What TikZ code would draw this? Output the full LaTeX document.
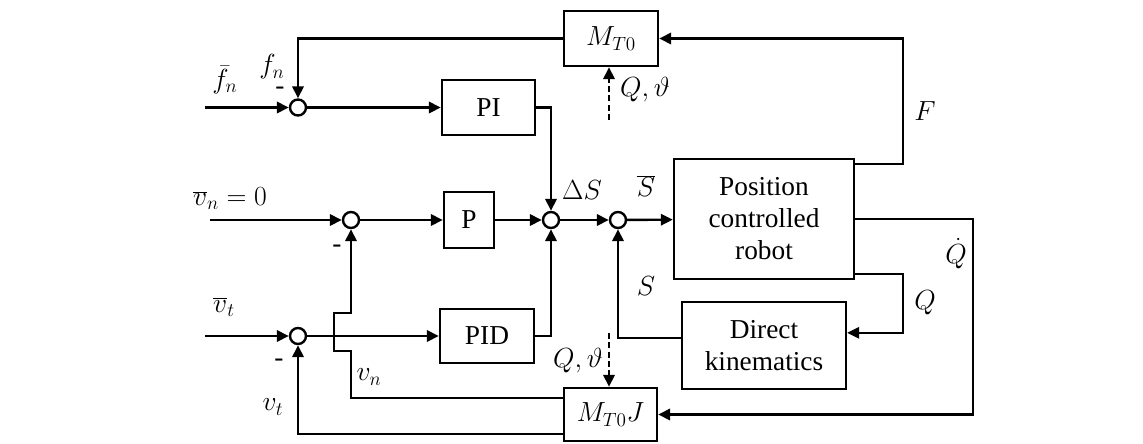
\documentclass[tikz,border=0pt]{standalone}
\usepackage{fontspec}
\setmainfont{Liberation Serif}
\usetikzlibrary{arrows.meta,calc}
\begin{document}
\begin{tikzpicture}[x=0.75pt,y=-0.75pt,
  line width=1.8pt,
  >={Triangle[length=9pt,width=8.5pt]},
  blk/.style={draw, line width=1.8pt, inner sep=0pt, align=center, font=\fontsize{20.5}{24}\selectfont},
  sumj/.style={draw, circle, minimum size=12pt, inner sep=0pt, line width=1.8pt},
  lbl/.style={inner sep=0pt, font=\fontsize{20.5}{24}\selectfont},
  wire/.style={line width=1.8pt, line join=miter},
  dwire/.style={wire, dash pattern=on 4.5pt off 2.5pt}
]
\useasboundingbox (0,0) rectangle (1143,443);

% blocks
\node[blk, minimum width=70.5pt, minimum height=41.25pt] (mt0) at (611,38.5) {$M_{T0}$};
\node[blk, minimum width=69.75pt, minimum height=41.25pt] (pi) at (488.5,107.5) {PI};
\node[blk, minimum width=37.5pt, minimum height=42pt] (p) at (469,220) {P};
\node[blk, minimum width=70.5pt, minimum height=40.5pt] (pid) at (487,336) {PID};
\node[blk, minimum width=135pt, minimum height=90pt] (robot) at (764,219) {Position\\controlled\\robot};
\node[blk, minimum width=123pt, minimum height=65.25pt] (dk) at (764,345.5) {Direct\\kinematics};
\node[blk, minimum width=69.75pt, minimum height=39.75pt] (mt0j) at (610.5,414.5) {$M_{T0}J$};

% summing junctions
\node[sumj] (s1) at (298,107.5) {};
\node[sumj] (s2) at (351,220) {};
\node[sumj] (s3) at (551,220) {};
\node[sumj] (s4) at (618,220) {};
\node[sumj] (s5) at (298,336) {};

% helper coordinates
\coordinate (fin) at (205,107.5);
\coordinate (vnin) at (210,220);
\coordinate (vtin) at (205,336);
\coordinate (xF) at (903,0);
\coordinate (xQd) at (973,0);
\coordinate (rF) at ($(robot.north east)+(0,6)$);
\coordinate (rQ) at ($(robot.south east)+(0,-6)$);
\coordinate (dkin) at ($(dk.north east)+(0,32)$);
\coordinate (dkout) at ($(dk.north west)+(0,37)$);
\coordinate (qt1) at (609,120);
\coordinate (qt2) at (609,333);
\coordinate (mjn) at ($(mt0j.north west)+(0,11)$);
\coordinate (mjt) at ($(mt0j.south west)+(0,-8)$);
\coordinate (j1) at (351,351);
\coordinate (j2) at (334,313);

% forward paths
\draw[wire,->] (fin) -- (s1);
\draw[wire,->] (s1) -- (pi);
\draw[wire,->] (pi.east) -| (s3.north);
\draw[wire,->] (vnin) -- (s2);
\draw[wire,->] (s2) -- (p);
\draw[wire,->] (p) -- (s3);
\draw[wire,->] (s3) -- (s4);
\draw[wire,->] (s4) -- (robot);
\draw[wire,->] (vtin) -- (s5);
\draw[wire,->] (s5) -- (pid);
\draw[wire,->] (pid.east) -| (s3.south);

% robot outputs
\draw[wire,->] (rF) -- (rF -| xF) |- (mt0.east);
\draw[wire,->] (robot.east) -- (robot.east -| xQd) |- (mt0j.east);
\draw[wire,->] (rQ) -- (rQ -| xF) |- (dkin);
\draw[wire,->] (dkout) -| (s4.south);

% feedback paths
\draw[wire,->] (mt0.west) -| (s1.north);
\draw[wire,->] (mjt) -| (s5.south);
\draw[wire,->] (mjn) -| (j1) -| (j2) -| (s2.south);

% dashed inputs
\draw[dwire,->] (qt1) -- (qt1 |- mt0.south);
\draw[dwire,->] (qt2) -- (qt2 |- mt0j.north);

% labels
\node[lbl] (lfb) at (225,80) {$\bar{f}_n$};
\node[lbl] (lf) at (272,67) {$f_n$};
\node[lbl] (m1) at (280,91) {-};
\node[lbl] (lqt1) at (645,90) {$Q,\vartheta$};
\node[lbl] (lF) at (925,111) {$F$};
\node[lbl] (lvn0) at (230,199) {$\overline{v}_n=0$};
\node[lbl] (m2) at (337,249) {-};
\node[lbl] (lds) at (582,190) {$\Delta S$};
\node[lbl] (lsb) at (646,186) {$\overline{S}$};
\node[lbl] (ls) at (646,286) {$S$};
\node[lbl] (lqd) at (956,254) {$\dot{Q}$};
\node[lbl] (lq) at (925,303) {$Q$};
\node[lbl] (lvtb) at (224,307) {$\overline{v}_t$};
\node[lbl] (m3) at (279,363) {-};
\node[lbl] (lvt) at (273,407) {$v_t$};
\node[lbl] (lvn) at (369,377) {$v_n$};
\node[lbl] (lqt2) at (578,361) {$Q,\vartheta$};
\end{tikzpicture}
\end{document}
